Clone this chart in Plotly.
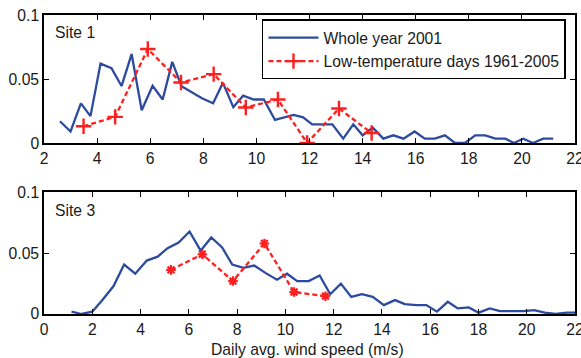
import plotly.graph_objects as go

# ---- data ----
site1_whole_x = [2.6, 3.0, 3.39, 3.75, 4.13, 4.54, 4.92, 5.30, 5.68, 6.09,
                 6.47, 6.83, 7.18, 7.56, 7.95, 8.37, 8.74, 9.13, 9.5, 9.9,
                 10.28, 10.7, 11.05, 11.4, 11.76, 12.1, 12.48, 12.86, 13.27, 13.65,
                 14.0, 14.38, 14.78, 15.16, 15.54, 15.96, 16.34, 16.72, 17.1, 17.48,
                 17.86, 18.24, 18.62, 19.0, 19.38, 19.7, 20.05, 20.42, 20.8, 21.18]
site1_whole_y = [0.017, 0.009, 0.031, 0.021, 0.062, 0.0585, 0.0445, 0.0695, 0.0256, 0.0447,
                 0.034, 0.0634, 0.0444, 0.040, 0.035, 0.031, 0.047, 0.028, 0.037, 0.034,
                 0.034, 0.018, 0.020, 0.022, 0.020, 0.0146, 0.0146, 0.0146, 0.0034, 0.0146,
                 0.006, 0.012, 0.0034, 0.006, 0.0034, 0.009, 0.0034, 0.0034, 0.006, 0.0,
                 0.0, 0.006, 0.006, 0.0034, 0.0034, 0.0, 0.0034, 0.0, 0.0034, 0.0034]

site1_low_x = [3.49, 4.68, 5.91, 7.16, 8.39, 9.6, 10.81, 11.91, 13.11, 14.34]
site1_low_y = [0.0131, 0.0204, 0.0734, 0.0473, 0.0538, 0.0277, 0.034, 0.0, 0.0269, 0.0078]

site3_whole_x = [1.14, 1.56, 2.0, 2.42, 2.875, 3.32, 3.78, 4.26, 4.71, 5.12,
                 5.58, 6.03, 6.49, 6.93, 7.38, 7.8, 8.26, 8.71, 9.19, 9.65,
                 10.07, 10.49, 10.97, 11.42, 11.86, 12.3, 12.73, 13.17, 13.62, 14.08,
                 14.54, 14.95, 15.43, 15.84, 16.28, 16.73, 17.14, 17.6, 18.01, 18.47,
                 18.89, 19.4, 19.89, 20.3, 20.75, 21.19, 21.67, 22.0]
site3_whole_y = [0.0019, 0.0, 0.0019, 0.0114, 0.0227, 0.0405, 0.033, 0.0438, 0.047, 0.054,
                 0.0586, 0.0676, 0.0519, 0.0627, 0.0546, 0.0405, 0.0378, 0.0397, 0.0335, 0.0281,
                 0.033, 0.027, 0.027, 0.0316, 0.0162, 0.0249, 0.014, 0.0162, 0.014, 0.0073,
                 0.0114, 0.0081, 0.0073, 0.0073, 0.0019, 0.01, 0.0046, 0.0054, 0.0011, 0.0046,
                 0.0024, 0.0024, 0.0024, 0.0032, 0.0011, 0.0, 0.0011, 0.0011]

site3_low_x = [5.26, 6.56, 7.83, 9.13, 10.36, 11.66]
site3_low_y = [0.0362, 0.049, 0.027, 0.0578, 0.018, 0.0146]

series_names = ["Whole year 2001", "Low-temperature days 1961-2005"]
panel_labels = ["Site 1", "Site 3"]
x_title = "Daily avg. wind speed (m/s)"
y_ticks = [0, 0.05, 0.1]
y_ticktext = ["0", "0.05", "0.1"]

BLUE = "#2c4a9e"
RED = "#ff1f1f"
FONT = "Liberation Sans, Arial, sans-serif"
FS = 15.7
TXT = "#1a1a1a"

fig = go.Figure()

fig.add_trace(go.Scatter(x=site1_whole_x, y=site1_whole_y, mode="lines",
                         line=dict(color=BLUE, width=2.3), name=series_names[0],
                         xaxis="x", yaxis="y"))
fig.add_trace(go.Scatter(x=site1_low_x, y=site1_low_y, mode="lines+markers",
                         line=dict(color=RED, width=2.3, dash="5px,3px"),
                         marker=dict(symbol="cross-thin-open", size=11,
                                     line=dict(color=RED, width=2.4)),
                         name=series_names[1], xaxis="x", yaxis="y"))
fig.add_trace(go.Scatter(x=site3_whole_x, y=site3_whole_y, mode="lines",
                         line=dict(color=BLUE, width=2.3), showlegend=False,
                         xaxis="x2", yaxis="y2"))
fig.add_trace(go.Scatter(x=site3_low_x, y=site3_low_y, mode="lines+markers",
                         line=dict(color=RED, width=2.3, dash="5px,3px"),
                         marker=dict(symbol="asterisk-open", size=8,
                                     line=dict(color=RED, width=2.2)),
                         showlegend=False, xaxis="x2", yaxis="y2"))

axis_common = dict(showline=True, linecolor="black", linewidth=1.5, mirror="ticks",
                   ticks="inside", ticklen=5, tickwidth=1, tickcolor="black",
                   showgrid=False, zeroline=False, automargin=False,
                   ticklabeloverflow="allow",
                   tickfont=dict(family=FONT, size=FS, color=TXT))

fig.update_layout(
    width=581, height=358,
    margin=dict(l=44, r=6, t=15, b=44),
    paper_bgcolor="white", plot_bgcolor="white",
    font=dict(family=FONT, size=FS, color=TXT),
    xaxis=dict(range=[2, 22], dtick=2, tick0=0, domain=[0, 1], anchor="y", **axis_common),
    yaxis=dict(range=[0, 0.1], tickvals=y_ticks, ticktext=y_ticktext,
               domain=[0.5719, 1.0], anchor="x", **axis_common),
    xaxis2=dict(range=[0, 22], dtick=2, tick0=0, domain=[0, 1], anchor="y2", **axis_common),
    yaxis2=dict(range=[0, 0.1], tickvals=y_ticks, ticktext=y_ticktext,
                domain=[0, 0.408], anchor="x2", **axis_common),
    legend=dict(x=0.4105, y=0.985, xanchor="left", yanchor="top",
                bordercolor="black", borderwidth=1.5, bgcolor="white",
                font=dict(family=FONT, size=FS, color=TXT),
                itemwidth=50),
    showlegend=True,
    annotations=[
        dict(text=panel_labels[0], x=0.017, y=0.9398, xref="paper", yref="paper",
             xanchor="left", yanchor="middle", showarrow=False,
             font=dict(family=FONT, size=FS, color=TXT)),
        dict(text=panel_labels[1], x=0.017, y=0.3478, xref="paper", yref="paper",
             xanchor="left", yanchor="middle", showarrow=False,
             font=dict(family=FONT, size=FS, color=TXT)),
        dict(text=x_title, x=0.4955, y=-0.1204, xref="paper", yref="paper",
             xanchor="center", yanchor="middle", showarrow=False,
             font=dict(family=FONT, size=FS, color=TXT)),
    ],
)

fig.write_html("out.html", config={"displayModeBar": False},
               post_script="document.body.style.margin='0';document.body.style.padding='0';")
